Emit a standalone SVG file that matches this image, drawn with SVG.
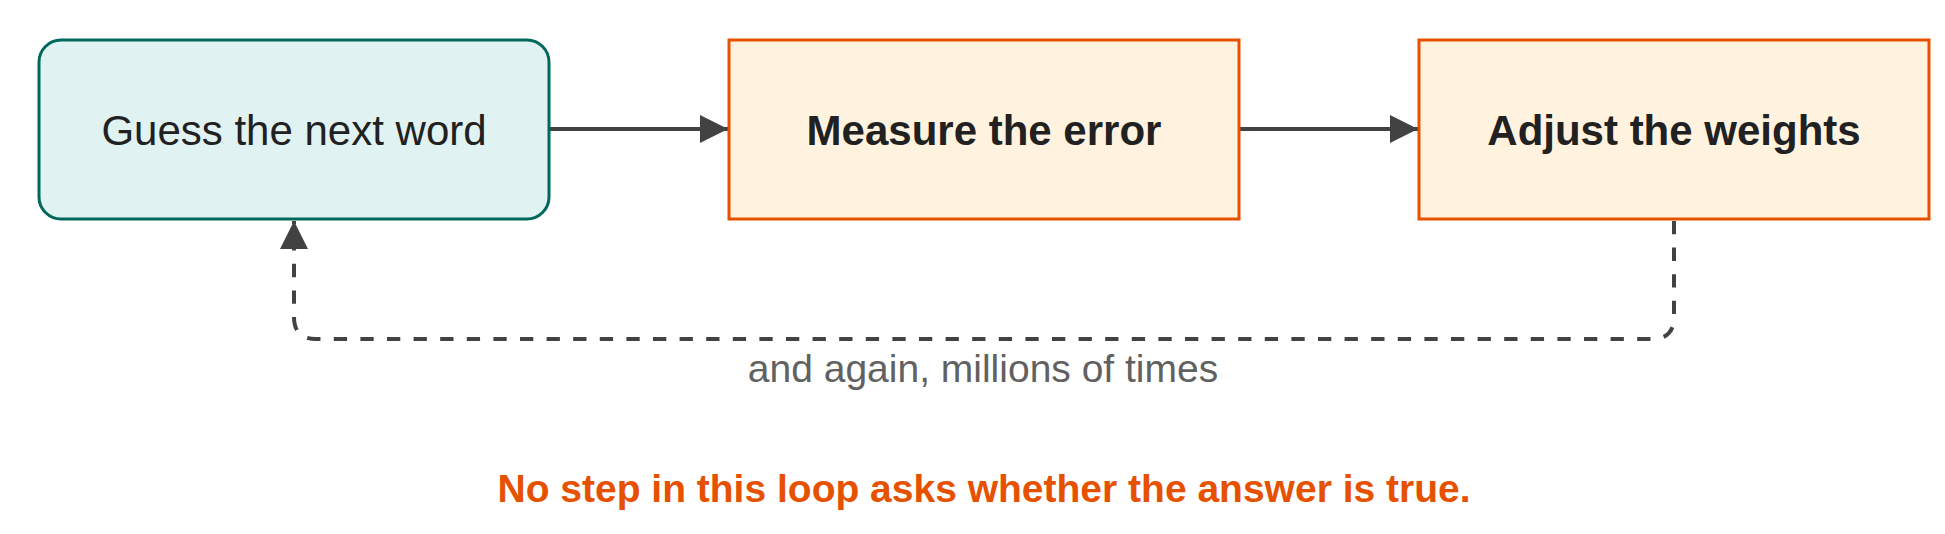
<svg xmlns="http://www.w3.org/2000/svg" width="1945" height="534" viewBox="0 0 1945 534">
<style>
.box-teal{fill:#E0F2F1;stroke:#00695C;stroke-width:3}
.box-orange{fill:#FFF3E0;stroke:#E65100;stroke-width:3}
.ntext{font-family:"Liberation Sans",Arial,sans-serif;font-size:42px;fill:#212121;text-anchor:middle}
.bold{font-weight:bold}
.conn{fill:none;stroke:#424242;stroke-width:4}
.dash{stroke-dasharray:13.3 13.3}
.label{font-family:"Liberation Sans",Arial,sans-serif;font-size:39px;fill:#616161;text-anchor:middle}
.note{font-family:"Liberation Sans",Arial,sans-serif;font-size:39px;font-weight:bold;fill:#E65100;text-anchor:middle}
</style>
<defs>
<marker id="arrow" markerUnits="userSpaceOnUse" markerWidth="28" markerHeight="28" viewBox="0 0 28 28" refX="28" refY="14" orient="auto">
<path d="M0,0 L28,14 L0,28 z" fill="#424242"/>
</marker>
</defs>
<rect width="1945" height="534" fill="#FFFFFF"/>
<g id="connectors">
<line class="conn" x1="549" y1="129" x2="728" y2="129" marker-end="url(#arrow)"/>
<line class="conn" x1="1239" y1="129" x2="1418" y2="129" marker-end="url(#arrow)"/>
<path class="conn dash" d="M1674 221 V317 Q1674 339 1652 339 H316 Q294 339 294 317 V221" marker-end="url(#arrow)"/>
<text class="label" x="983" y="382">and again, millions of times</text>
</g>
<g id="guess">
<rect class="box-teal" x="39" y="40" width="510" height="179" rx="22" ry="22"/>
<text class="ntext" x="294" y="144.5">Guess the next word</text>
</g>
<g id="measure">
<rect class="box-orange" x="729" y="40" width="510" height="179"/>
<text class="ntext bold" x="984" y="144.5">Measure the error</text>
</g>
<g id="adjust">
<rect class="box-orange" x="1419" y="40" width="510" height="179"/>
<text class="ntext bold" x="1674" y="144.5">Adjust the weights</text>
</g>
<g id="note">
<text class="note" x="984" y="502">No step in this loop asks whether the answer is true.</text>
</g>
</svg>
